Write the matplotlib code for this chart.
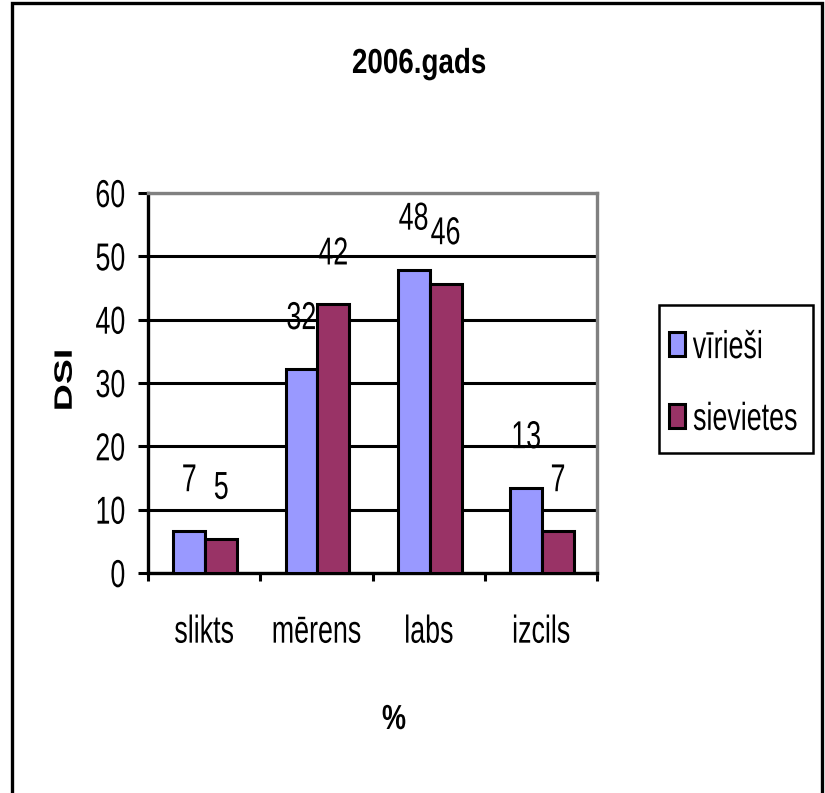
import matplotlib
matplotlib.use('Agg')
import numpy as np
import matplotlib.pyplot as plt
from matplotlib.patches import Rectangle
from matplotlib.patheffects import AbstractPathEffect
from matplotlib.transforms import Affine2D

plt.rcParams['font.family'] = ['Liberation Sans', 'DejaVu Sans']

categories = ['slikts', 'mērens', 'labs', 'izcils']
virieti = [6.6, 32.2, 47.9, 13.4]
sievietes = [5.4, 42.4, 45.6, 6.6]
series_names = ['vīrieši', 'sievietes']
colors = ['#9999FF', '#993366']
yticks = [0, 10, 20, 30, 40, 50, 60]


class Squeeze(AbstractPathEffect):
    """Draw text narrower than the font, like a condensed face."""

    def __init__(self, s=0.69, anchor='center', axis='x'):
        super().__init__()
        self._s = s
        self._anchor = anchor
        self._axis = axis

    def draw_path(self, renderer, gc, tpath, affine, rgbFace=None):
        ext = tpath.get_extents()
        if self._axis == 'x':
            a = {'left': ext.x0, 'right': ext.x1}.get(self._anchor, (ext.x0 + ext.x1) / 2)
            t = Affine2D().translate(-a, 0).scale(self._s, 1).translate(a, 0)
        else:
            a = (ext.y0 + ext.y1) / 2
            t = Affine2D().translate(0, -a).scale(1, self._s).translate(0, a)
        renderer.draw_path(gc, tpath, t + affine, rgbFace)


fs = 28
sq = 0.69

fig = plt.figure(figsize=(8.25, 7.93), dpi=100)
ax = fig.add_axes([148 / 825, 1 - 573 / 793, 449 / 825, 380 / 793])

# outer chart frame (bottom edge runs off the image)
fig.patches.append(Rectangle((12 / 825, -0.05), 810 / 825, 1.05 - 3 / 793,
                             transform=fig.transFigure, fill=False,
                             edgecolor='black', linewidth=2.4, zorder=0))

x = np.arange(len(categories))
w = 0.285
bars1 = ax.bar(x - w / 2 + 0.01, virieti, w, color=colors[0], edgecolor='black',
               linewidth=2.2, label=series_names[0], zorder=3)
bars2 = ax.bar(x + w / 2 + 0.01, sievietes, w, color=colors[1], edgecolor='black',
               linewidth=2.2, label=series_names[1], zorder=3)

for bars, vals in [(bars1, virieti), (bars2, sievietes)]:
    for b, v in zip(bars, vals):
        ax.annotate(f'{v:.0f}', (b.get_x() + b.get_width() / 2, v),
                    xytext=(0, 36), textcoords='offset points',
                    ha='center', va='center', fontsize=fs,
                    path_effects=[Squeeze(sq)])

ax.set_xlim(-0.5, 3.5)
ax.set_ylim(0, 60)
ax.set_yticks(yticks)
ax.set_yticklabels([str(t) for t in yticks], fontsize=fs)
ax.yaxis.grid(True, color='black', linewidth=2.2, zorder=1)
ax.set_axisbelow(True)

# category ticks sit between groups, labels at group centres
ax.set_xticks(np.arange(-0.5, 4, 1.0))
ax.set_xticklabels([])
ax.set_xticks(x, minor=True)
ax.set_xticklabels(categories, minor=True, fontsize=fs)
ax.tick_params(axis='x', which='major', direction='out', length=6, width=2.2)
ax.tick_params(axis='x', which='minor', length=0, pad=30)
ax.tick_params(axis='y', direction='out', length=7, width=2.2, pad=9)

for lab in ax.get_yticklabels():
    lab.set_path_effects([Squeeze(sq, anchor='right')])
for lab in ax.get_xticklabels(minor=True):
    lab.set_path_effects([Squeeze(sq)])

ax.spines['left'].set_linewidth(2.4)
ax.spines['bottom'].set_linewidth(2.4)
ax.spines['top'].set_color('#808080')
ax.spines['right'].set_color('#808080')
ax.spines['top'].set_linewidth(2.4)
ax.spines['right'].set_linewidth(2.4)

fig.text(419 / 825, 1 - 73 / 793, '2006.gads', ha='center', va='baseline',
         fontsize=25, fontweight='bold', path_effects=[Squeeze(0.8)])
fig.text(66 / 825, 1 - 380 / 793, 'DSI', ha='center', va='center',
         rotation=90, fontsize=27, fontweight='bold',
         path_effects=[Squeeze(0.67, axis='y')])
fig.text(394 / 825, 1 - 729 / 793, '%', ha='center', va='baseline',
         fontsize=25, fontweight='bold', path_effects=[Squeeze(0.78)])

# legend frame drawn separately so it fits the condensed labels
fig.patches.append(Rectangle((659 / 825, 1 - 453 / 793), 154 / 825, 148 / 793,
                             transform=fig.transFigure, fill=False,
                             edgecolor='black', linewidth=1.8, zorder=5))
leg = ax.legend(loc='center left', bbox_to_anchor=(669 / 825, 1 - 384 / 793),
                bbox_transform=fig.transFigure, fontsize=fs, frameon=False,
                handlelength=0.41, handleheight=0.57, handletextpad=0.2,
                labelspacing=0.92, borderpad=0, borderaxespad=0)
for t in leg.get_texts():
    t.set_path_effects([Squeeze(sq, anchor='left')])

fig.savefig('out.png', dpi=100)
